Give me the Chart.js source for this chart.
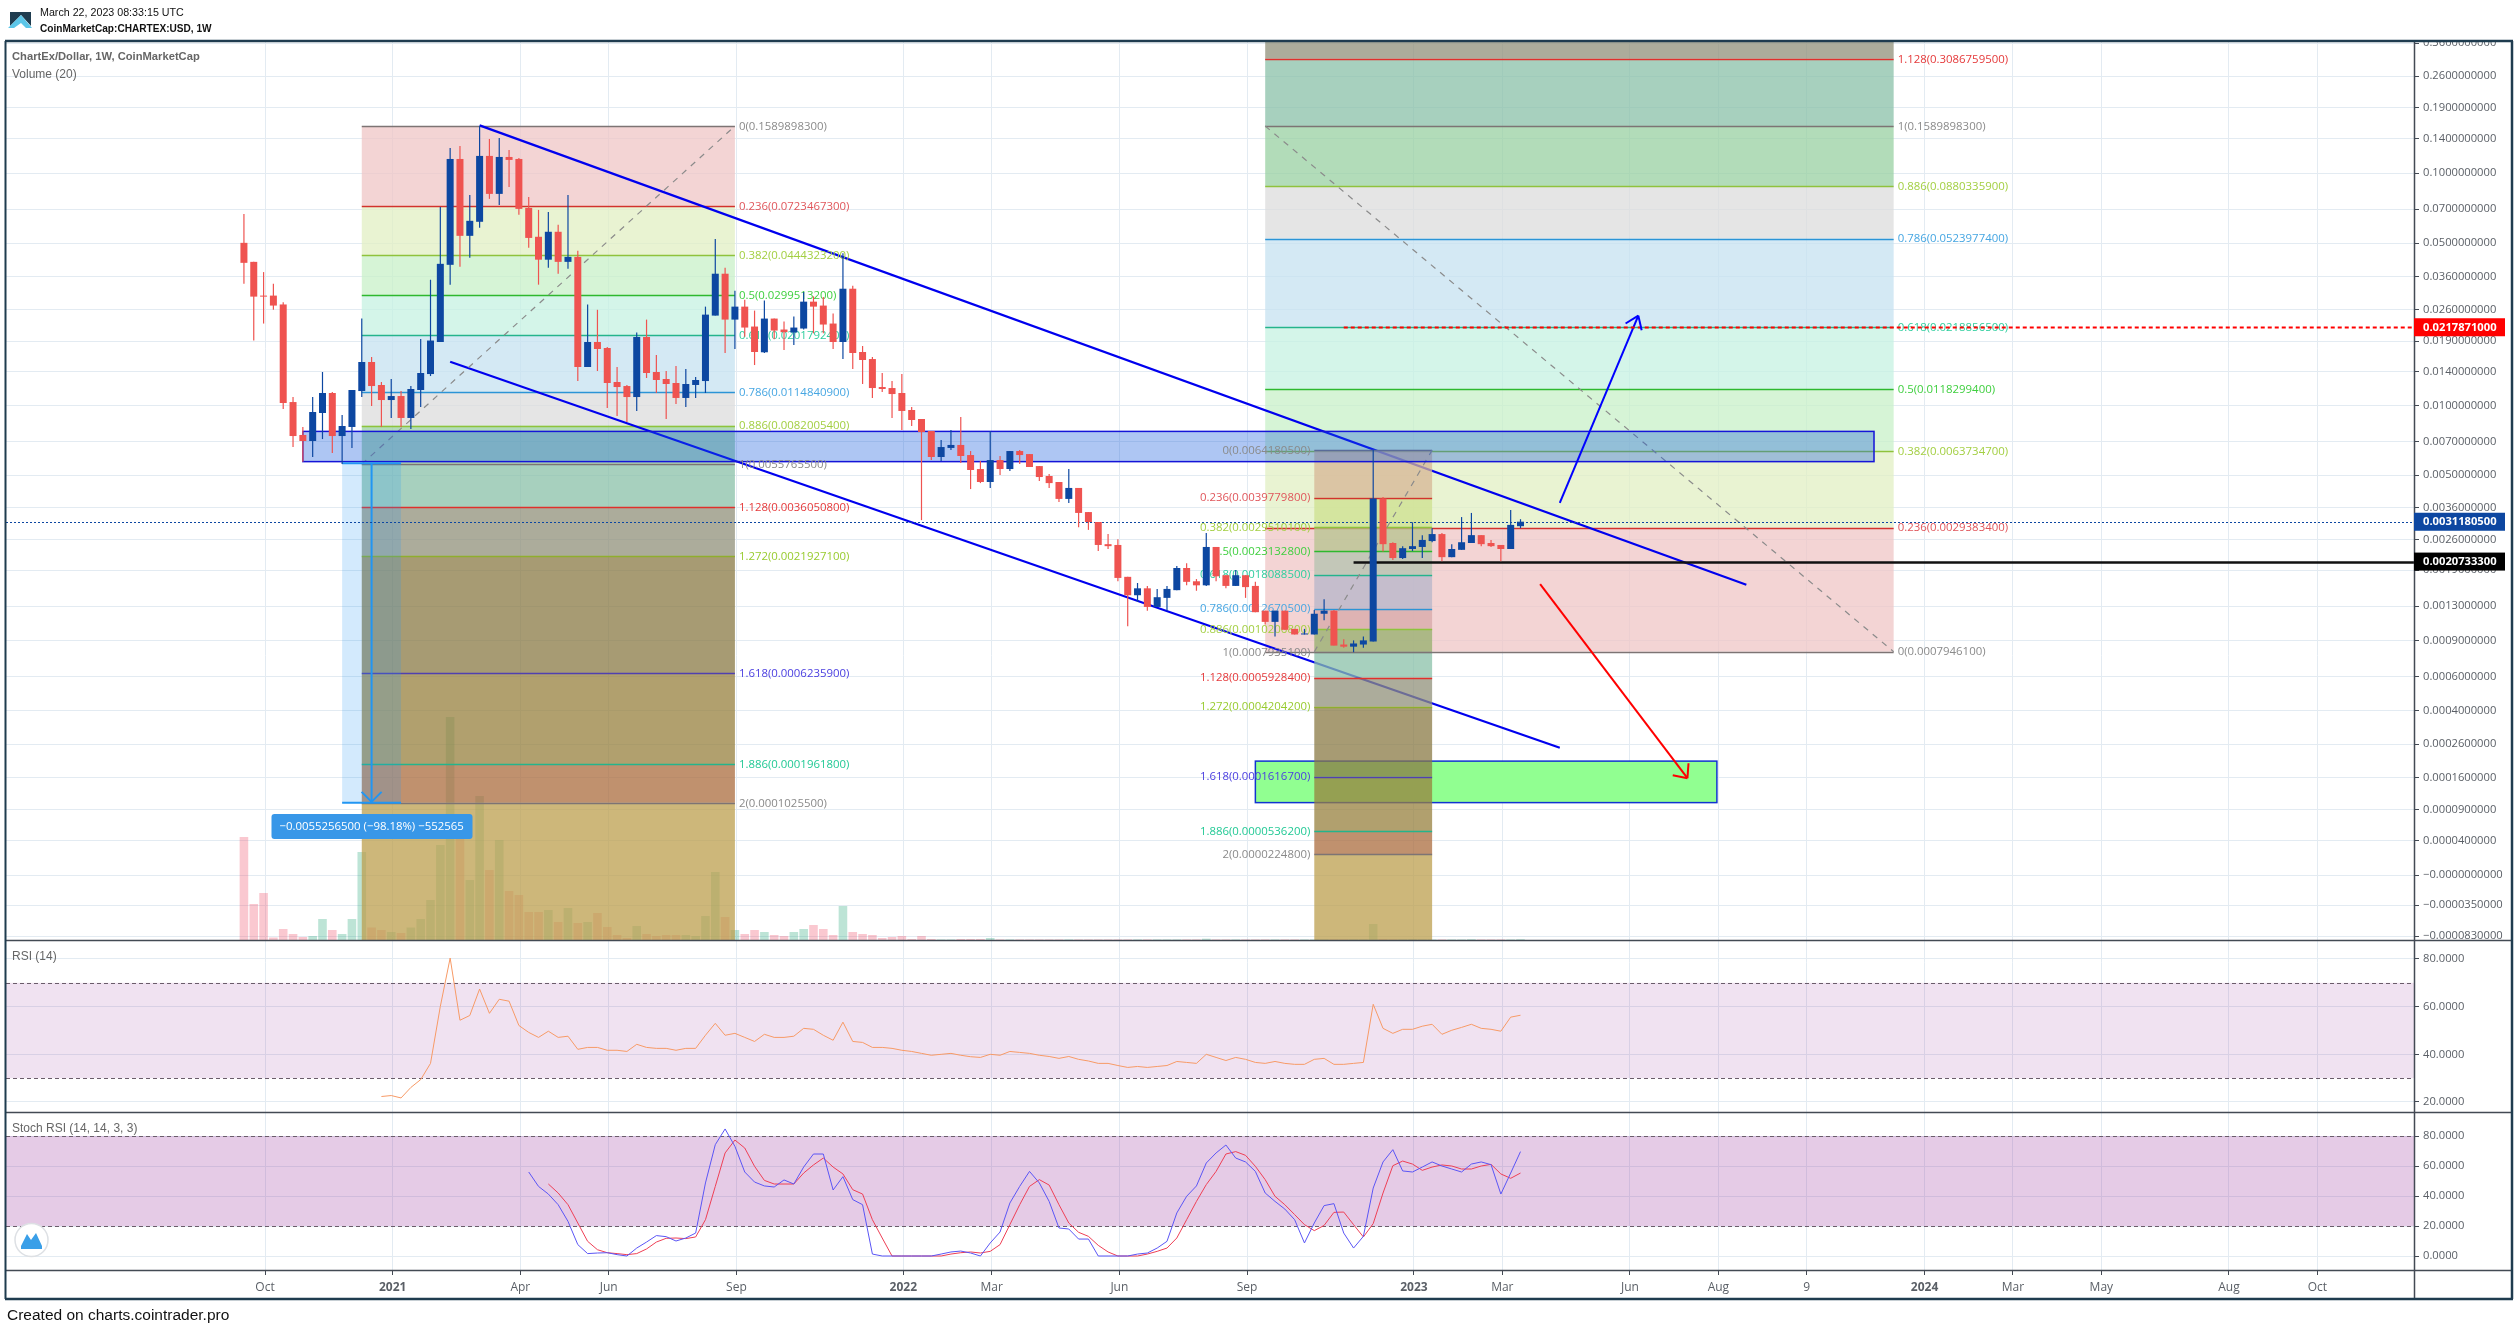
<!DOCTYPE html>
<html><head><meta charset="utf-8"><title>ChartEx/Dollar</title>
<style>html,body{margin:0;padding:0;background:#fff}canvas{display:block}</style>
<script src="https://cdn.jsdelivr.net/npm/chart.js@4/dist/chart.umd.js"></script>
</head><body><canvas id="c" width="2518" height="1330"></canvas>
<script>
// ---------- weekly candles (index = week number on the x axis) ----------
const open=[.0502,.0416,.0298,.0298,.0273,.01037,.00747,.00703,.0093,.01135,.00739,.00809,.01157,.01544,.01229,.01058,.01101,.00885,.01169,.0137,.01882,.0404,.1149,.0538,.0618,.1184,.0814,.1172,.1149,.0709,.0533,.0425,.056,.0416,.0437,.01469,.01882,.01774,.01266,.01216,.0109,.01978,.01398,.01304,.01253,.0108,.01229,.01278,.02445,.037,.0235,.02672,.02194,.017,.02374,.0213,.02068,.02151,.02807,.027,.0226,.01882,.0319,.01705,.0159,.01204,.01192,.01135,.00958,.00876,.00777,.00599,.00656,.00676,.00611,.00531,.00466,.00581,.00531,.00636,.00617,.00547,.00495,.00466,.00393,.00439,.00344,.00311,.00248,.00246,.00177,.00146,.00157,.00129,.00142,.00154,.00194,.00169,.00162,.00241,.0018,.00161,.0018,.00161,.00124,.0011,.00124,.00102,.00096,.00096,.0012,.00124,.00086,.00084,.00086,.00089,.00395,.00251,.00215,.00236,.00241,.00256,.00275,.00217,.00234,.00251,.00272,.00251,.00246,.00236,.00298];
const high=[.0668,.0416,.0376,.0335,.0279,.0109,.00809,.0109,.01398,.01146,.00911,.01169,.02374,.01622,.01266,.01304,.01157,.01216,.01939,.03486,.0716,.1281,.1306,.0806,.159,.14,.1414,.1256,.1161,.079,.0695,.0681,.06,.0806,.0464,.0273,.0259,.01791,.01469,.01229,.02068,.0235,.01655,.01412,.01484,.0144,.0133,.02672,.0522,.0392,.03128,.02863,.02569,.0284,.02374,.02305,.02421,.03087,.02958,.02939,.02494,.04534,.03286,.01809,.01622,.01384,.01278,.0137,.00987,.00876,.00777,.0071,.00785,.00893,.00636,.00576,.00777,.00605,.00636,.00643,.00617,.00547,.00505,.00466,.00531,.00439,.00344,.00311,.00275,.00261,.00177,.00166,.00161,.00156,.00161,.00198,.00204,.00173,.00278,.00241,.0018,.0019,.0018,.00168,.00124,.00124,.00124,.00102,.00102,.00125,.0014,.00125,.00091,.0009,.00094,.00642,.00401,.00253,.00243,.0031,.00272,.00292,.00278,.00248,.00327,.00341,.00272,.00259,.00246,.00351,.0032];
const low=[.0335,.0191,.0226,.0259,.00968,.00662,.00572,.00599,.00717,.00624,.00558,.00656,.0109,.00997,.00809,.00885,.00809,.00793,.00987,.01343,.01882,.0332,.0396,.0433,.0582,.0775,.073,.0872,.0662,.0478,.0332,.0392,.037,.0389,.01278,.01469,.01412,.00977,.00902,.0085,.00949,.01317,.01135,.00876,.01017,.00987,.0108,.01135,.02445,.01688,.01756,.01984,.01498,.0169,.01933,.01739,.01827,.0213,.02051,.02051,.01756,.0159,.0144,.01241,.0108,.01146,.00885,.00785,.00817,.00317,.00581,.00576,.00643,.00564,.00434,.00461,.00439,.005,.00521,.00558,.00542,.00471,.00439,.00381,.00377,.00295,.00287,.00231,.00236,.00169,.00105,.00136,.00124,.00129,.00124,.00154,.00162,.00153,.00161,.00169,.00157,.00161,.00142,.00122,.00107,.00094,.00101,.00096,.00096,.00096,.00112,.00085,.00083,.00079,.00083,.00089,.0023,.00211,.00213,.00231,.00215,.00253,.00208,.00217,.00234,.00251,.00243,.00241,.00208,.00236,.00292];
const close=[.0412,.0295,.0295,.027,.01027,.00739,.00703,.00939,.01135,.00739,.00817,.01169,.01544,.01216,.01058,.01101,.00885,.01181,.01384,.0191,.0408,.1149,.0538,.0624,.1184,.0814,.1172,.1138,.0702,.0527,.0425,.056,.0416,.0437,.01469,.01882,.01756,.01253,.01204,.0109,.01978,.01384,.01291,.01241,.0108,.01241,.01291,.02469,.037,.0235,.02672,.02172,.01705,.02374,.02109,.02075,.02172,.02807,.02672,.02238,.01882,.0319,.01688,.01575,.01192,.01181,.01123,.00949,.00867,.00769,.00599,.00662,.00676,.00605,.00526,.00466,.00581,.00531,.00636,.00611,.00542,.0049,.00461,.00393,.00439,.00341,.00311,.00246,.00243,.00175,.00146,.00157,.00129,.00143,.00156,.00194,.00168,.00162,.00241,.00178,.00161,.0018,.00159,.00122,.0011,.00124,.00101,.00096,.00097,.0012,.00124,.00085,.00084,.00087,.0009,.00395,.00248,.00215,.00238,.00243,.00259,.00275,.00217,.00236,.00253,.00272,.00248,.00243,.00236,.00302,.00312];
const volume=[103,36,47,2.5,11,6,3,4,21,10,6,21,88,12.5,10,8,7,12.5,21,40,95,223,101,60,144,70,100,49,45,28,28,30,18,32,17,18,27,13,5,2,14,6,4,5,5,5,4,24,68,23,10,6,10,8,5,4,8,11,15,11,5,34,8,6,5,2,3,4,1,4,1,.5,.5,1,1,1,2,.5,.5,.5,.5,.5,.5,.5,.5,.5,.5,.5,.5,.5,.5,.5,.5,.5,.5,.5,.5,.5,1.3,.5,.5,.5,.5,.5,.5,.5,.5,.5,.5,.5,.5,.5,.5,.5,.5,16,.8,.5,.5,.7,.5,.5,.5,.5,.5,.8,.5,.5,.5,.5,.8];
// ---------- indicators ----------
const rsiStart=14;
const rsi=[22.3,22.7,21.7,26.1,29.4,36.2,60.1,80.4,54.3,56.3,67.4,57.2,63.1,62.3,52.1,49.2,47.1,49.7,47.1,47.6,42.1,42.9,42.9,41.7,41.7,41.2,44.2,42.9,42.5,42.5,41.7,42.5,42.5,48,53,48,48.8,47.1,45.4,48.4,47.1,47.1,47.6,50.9,50.5,48,45.9,53.5,45.4,45,42.9,42.9,42.5,41.7,41.2,40.4,39.6,40,40.4,39.6,39,38.7,40,39.6,41.2,40.8,40.4,39.6,39.1,38.3,39.1,37.9,37.2,36.2,36.2,35.3,34.5,34.9,34.5,34.9,35.3,37,36.6,36.2,40,38.7,37.4,38.7,37.9,36.6,36.2,37,36.2,35.8,35.8,37.9,38.3,35.8,35.8,36.2,36.6,61,50.9,48.8,50.5,50.5,51.8,52.6,48.4,50.1,51.3,52.6,50.9,50.5,49.7,55.6,56.4];
const stochKStart=29;
const stochK=[56,46.4,41.3,34.2,23.1,7.6,1.6,2,2.2,.9,0,5.3,9.3,13.6,12.9,10,12,15.3,48.7,74.2,84.7,73.1,56,49.3,46.7,46,50.7,48,59.3,68,68,44,52.9,37.6,34.2,1.3,0,0,0,0,0,0,1.3,2.7,3.3,2,0,8.7,16,35.3,46.4,56.4,48.7,36.4,18.7,18,11.3,11.3,0,0,0,0,1.3,2,5.3,9.8,28.7,39.8,46.7,62,68.7,74,65.3,62.7,56.4,42,36.4,31.3,24.2,8.7,22,33.6,34.9,15.3,5.3,13.1,45.3,62.7,70.9,56.7,56,59.3,62.7,60,58,56,61.3,62.7,60.9,41.3,55.3,69.6];
const stochDStart=31;
const stochD=[48,42,34.2,22,9.8,4.2,2.2,1.6,.9,1.6,4.7,9.3,11.8,12,11.6,12.7,24.2,46.4,68.7,77.3,72,59.8,50.4,48,48,48,55.3,60.7,65.3,59.3,54.7,44.2,41.3,24.2,12,0,0,0,0,0,0,1.3,2.2,2.7,2,3.1,7.6,20.9,34.2,46.4,50.9,47.3,34.2,22,15.8,13.1,7.1,2.7,0,0,0,1.3,3.1,5.3,12,24.2,36.4,47.6,56.4,68,69.6,67.1,59.8,50.9,39.8,34.2,27.6,20.9,16.9,20.4,29.1,29.3,20.9,12.7,21.6,42,60.2,63.3,61.3,57.1,59.3,60.7,60,58,58,60,61.1,54.7,51.8,55.3];
// ---------- axes ----------
const weekTicks=[2.15,15.15,28.15,37.15,50.15,67.15,76.15,89.15,102.15,119.15,128.15,141.15,150.15,159.15,171.15,180.15,189.15,202.15,211.15];
const weekLabels=['Oct','2021','Apr','Jun','Sep','2022','Mar','Jun','Sep','2023','Mar','Jun','Aug','9','2024','Mar','May','Aug','Oct'];
const priceTicks=[.36,.26,.19,.14,.1,.07,.05,.036,.026,.019,.014,.01,.007,.005,.0036,.0026,.0019,.0013,.0009,.0006,.0004,.00026,.00016,.00009,.00004,0,-.000035,-.000083];
const rsiTicks=[80,60,40,20];
const stochTicks=[80,60,40,20,0];
// ---------- fibonacci tools ----------
const fibLevels=[0,.236,.382,.5,.618,.786,.886,1,1.128,1.272,1.618,1.886,2];
const fibLeftWeeks=[12,50];
const fibLeftPrices=[.15898983,.07234673,.04443232,.02995132,.02017924,.01148409,.00820054,.00557655,.00360508,.00219271,.00062359,.00019618,.00010255];
const fibMidWeeks=[109,121];
const fibMidPrices=[.00641805,.00397798,.00295101,.00231328,.00180885,.00126705,.00102068,.00079351,.00059284,.00042042,.00016167,.00005362,.00002248];
const fibRightWeeks=[104,168];
const fibRightPrices=[.00079461,.00293834,.00637347,.01182994,.02188565,.05239774,.08803359,.15898983,.30867595];
// ---------- drawings ----------
const channelTop=[[24,.16],[153,.00163]];
const channelBottom=[[21,.01549],[134,.000248]];
const arrowUp=[[134,.00378],[142,.02445]];
const arrowDown=[[132,.00164],[147,.000158]];
const zoneBlue=[6,166,.00774,.00572];
const zoneGreen=[103,150,.000205,.000103];
const measure=[10,16,13,.0056282,.0001025];
const measureText='\u22120.0055256500 (\u221298.18%) \u2212552565';
const lastPrice=.0031180500, redLevel=.0217871, redLevelWeek=112, blackLevel=.0020733300, blackLevelWeek=113;

const FONT='"Open Sans"', BLUE='#0D47A1', RED='#EF5350';
const OFF=.0000988, NEGK=.129/Math.pow(35e-6,.82);
const priceT=v=>v>=0?Math.log10(v+OFF):Math.log10(OFF)-NEGK*Math.pow(-v,.82);
class PriceScale extends Chart.Scale{
  static id='priceAxis'; static defaults={};
  determineDataLimits(){this.min=this.options.min;this.max=this.options.max;}
  buildTicks(){return priceTicks.map(v=>({value:v}));}
  configure(){super.configure();this._s=priceT(this.min);this._r=priceT(this.max)-this._s;}
  getPixelForValue(v){return this.getPixelForDecimal((priceT(v)-this._s)/this._r);}
  getValueForPixel(p){return Math.pow(10,this.getDecimalForPixel(p)*this._r+this._s)-OFF;}
  getLabelForValue(v){return String(v);}
}
Chart.register(PriceScale);

const isUp=i=>close[i]>=open[i];
const lineData=a=>a.map(p=>({x:p[0],y:p[1]}));
const series=(a,s)=>a.map((v,i)=>({x:i+s,y:v}));
const weeks=open.map((_,i)=>i);
const thin={type:'line',pointRadius:0,fill:false,tension:0,borderJoinStyle:'round'};

const mix=(t,a=.75)=>{const c=t.map(v=>Math.max(0,Math.round((v-255*(1-a))/a)));return `rgba(${c[0]},${c[1]},${c[2]},${a})`;};
const bandLeft=[[243,212,212],[233,243,210],[214,244,214],[212,245,233],[212,233,244],[229,229,229],[178,220,185],[167,208,190],[172,172,155],[167,155,115],[177,160,110],[192,145,110]];
const bandMid=[[225,200,175],[218,232,170],[200,210,170],[198,210,195],[200,200,215],[225,190,190],[175,195,145],[167,208,190],[172,172,155],[167,155,115],[177,160,110],[192,145,110]];
const lineCol=['#7d7474','#d2322d','#8fc23c','#2eb82e','#24b48c','#2b94d6','#8fc23c','#7d7474','#e0302c','#8fae2e','#5040b0','#24b48c','#7d7474'];
const textCol=['#8a8a8a','#e0565b','#a3cf42','#3fcf3f','#2fce9e','#46a6e2','#a3cf42','#8a8a8a','#e5393a','#98cb2e','#4a3ee0','#22c995','#8a8a8a'];

function seg(ctx,x1,y1,x2,y2,col,w,dash){ctx.save();ctx.strokeStyle=col;ctx.lineWidth=w;ctx.setLineDash(dash||[]);ctx.beginPath();ctx.moveTo(x1,y1);ctx.lineTo(x2,y2);ctx.stroke();ctx.restore();}
function head(ctx,a,col,w,len,spread){
  const X=ctx.chart.scales.x,Y=ctx.chart.scales.y;
  const x1=X.getPixelForValue(a[0][0]),y1=Y.getPixelForValue(a[0][1]),x2=X.getPixelForValue(a[1][0]),y2=Y.getPixelForValue(a[1][1]);
  const ang=Math.atan2(y2-y1,x2-x1);
  seg(ctx,x2-len*Math.cos(ang-spread),y2-len*Math.sin(ang-spread),x2,y2,col,w);
  seg(ctx,x2-len*Math.cos(ang+spread),y2-len*Math.sin(ang+spread),x2,y2,col,w);
}
function fibFill(chart,weeksR,prices,bands,ext,extUp){
  const ctx=chart.ctx,X=chart.scales.x,Y=chart.scales.y;
  const x1=X.getPixelForValue(weeksR[0]),x2=X.getPixelForValue(weeksR[1]);
  ctx.save();
  for(let i=0;i<prices.length-1;i++){
    const a=Y.getPixelForValue(prices[i]),b=Y.getPixelForValue(prices[i+1]);
    ctx.fillStyle=mix(bands[i]);ctx.fillRect(x1,Math.min(a,b),x2-x1,Math.abs(b-a));
  }
  const last=Y.getPixelForValue(prices[prices.length-1]);
  ctx.fillStyle=mix(ext);
  if(extUp)ctx.fillRect(x1,Y.top,x2-x1,last-Y.top);else ctx.fillRect(x1,last,x2-x1,Y.bottom-last);
  prices.forEach((p,i)=>{const y=Math.round(Y.getPixelForValue(p))+.5;seg(ctx,x1,y,x2,y,lineCol[i],1.5);});
  ctx.restore();
}
function fibLabels(chart,weeksR,prices,side){
  const ctx=chart.ctx,X=chart.scales.x,Y=chart.scales.y;
  ctx.save();ctx.font=`11.4px ${FONT}`;ctx.textBaseline='middle';
  const x=side==='right'?X.getPixelForValue(weeksR[1])+4:X.getPixelForValue(weeksR[0])-4;
  ctx.textAlign=side==='right'?'left':'right';
  prices.forEach((p,i)=>{ctx.fillStyle=textCol[i];ctx.fillText(`${fibLevels[i]}(${p.toFixed(10)})`,x,Y.getPixelForValue(p)+.5);});
  ctx.restore();
}
function box(chart,z,fill,stroke,w){
  const ctx=chart.ctx,X=chart.scales.x,Y=chart.scales.y;
  const x1=X.getPixelForValue(z[0]),x2=X.getPixelForValue(z[1]),y1=Y.getPixelForValue(z[2]),y2=Y.getPixelForValue(z[3]);
  ctx.save();ctx.fillStyle=fill;ctx.fillRect(x1,y1,x2-x1,y2-y1);ctx.strokeStyle=stroke;ctx.lineWidth=w;ctx.strokeRect(x1,y1,x2-x1,y2-y1);ctx.restore();
}
const toolsPlugin={
  id:'tools',
  beforeDatasetsDraw(chart){
    const ctx=chart.ctx,R=chart.scales.yRsi,S=chart.scales.yStoch,l=chart.chartArea.left,r=chart.chartArea.right;
    ctx.save();
    ctx.fillStyle='rgba(150,47,155,.14)';ctx.fillRect(l,R.getPixelForValue(70),r-l,R.getPixelForValue(30)-R.getPixelForValue(70));
    ctx.fillStyle='rgba(150,47,155,.25)';ctx.fillRect(l,S.getPixelForValue(80),r-l,S.getPixelForValue(20)-S.getPixelForValue(80));
    [[R,70],[R,30],[S,80],[S,20]].forEach(([sc,v])=>{const y=Math.round(sc.getPixelForValue(v))+.5;seg(ctx,l,y,r,y,'#6a5c6a',1.2,[4,3]);});
    ctx.restore();
  },
  beforeDatasetDraw(chart,args){
    const name=chart.data.datasets[args.index].label;
    const ctx=chart.ctx,X=chart.scales.x,Y=chart.scales.y;
    if(name==='channelTop'){
      box(chart,zoneGreen,'rgb(145,255,145)','#1034d0',1.5);
      fibFill(chart,fibRightWeeks,fibRightPrices,bandLeft,[172,172,155],true);
      fibFill(chart,fibLeftWeeks,fibLeftPrices,bandLeft,[205,183,122],false);
    }
    if(name==='arrowUp'){
      fibFill(chart,fibMidWeeks,fibMidPrices,bandMid,[205,183,122],false);
      const dg=(w,a,b)=>seg(ctx,X.getPixelForValue(w[0]),Y.getPixelForValue(a),X.getPixelForValue(w[1]),Y.getPixelForValue(b),'#8b8b8b',1.2,[6,6]);
      dg(fibLeftWeeks,fibLeftPrices[7],fibLeftPrices[0]);
      dg(fibMidWeeks,fibMidPrices[7],fibMidPrices[0]);
      dg(fibRightWeeks,fibRightPrices[7],fibRightPrices[0]);
      box(chart,zoneBlue,'rgba(24,92,221,.35)','#1414d8',1.5);
      const x1=X.getPixelForValue(measure[0]),x2=X.getPixelForValue(measure[1]),xm=X.getPixelForValue(measure[2]),
            y1=Y.getPixelForValue(measure[3]),y2=Y.getPixelForValue(measure[4]);
      ctx.fillStyle='rgba(33,150,243,.2)';ctx.fillRect(x1,y1,x2-x1,y2-y1);
      seg(ctx,x1,y1,x2,y1,'#2196F3',2);seg(ctx,x1,y2,x2,y2,'#2196F3',2);seg(ctx,xm,y1,xm,y2,'#2196F3',2);
      seg(ctx,xm-10,y2-11,xm,y2-1,'#2196F3',2);seg(ctx,xm+10,y2-11,xm,y2-1,'#2196F3',2);
      fibLabels(chart,fibLeftWeeks,fibLeftPrices,'right');
      fibLabels(chart,fibRightWeeks,fibRightPrices,'right');
      fibLabels(chart,fibMidWeeks,fibMidPrices,'left');
    }
    if(name==='wicks'){
      const a=Math.round(Y.getPixelForValue(lastPrice))+.5;
      seg(ctx,X.left,a,X.right,a,BLUE,1,[2,2]);
      const b=Math.round(Y.getPixelForValue(blackLevel))+.5;
      seg(ctx,X.getPixelForValue(blackLevelWeek),b,X.right,b,'#111',2.4);
      const c=Math.round(Y.getPixelForValue(redLevel))+.5;
      seg(ctx,X.getPixelForValue(redLevelWeek),c,X.right,c,'#FF0000',2,[4,3]);
    }
  },
  afterDatasetsDraw(chart){
    const ctx=chart.ctx;ctx.chart=chart;
    head(ctx,arrowUp,'#0000FF',2,15,.62);
    head(ctx,arrowDown,'#FF0000',2,15,.72);
  },
  afterDraw(chart){
    const ctx=chart.ctx,Y=chart.scales.y,X=chart.scales.x,R=chart.scales.yRsi,S=chart.scales.yStoch;
    const mx=(X.getPixelForValue(measure[2]));
    ctx.save();
    ctx.fillStyle='#3897E8';ctx.beginPath();ctx.roundRect(271.5,814,201,25,3);ctx.fill();
    ctx.fillStyle='#fff';ctx.font=`11.4px ${FONT}`;ctx.textBaseline='middle';ctx.textAlign='center';ctx.fillText(measureText,mx,826.5);
    ctx.fillStyle='#fff';ctx.fillRect(0,0,2518,40);ctx.fillRect(0,1300,2518,30);ctx.fillRect(2415,941,95,5);
    const P='#434a54',F='#1f3c4f';
    [Y.bottom,R.bottom,S.bottom].forEach(y=>seg(ctx,6,Math.round(y)+.5,2512,Math.round(y)+.5,P,1.5));
    seg(ctx,2414.5,41,2414.5,1299,P,1.5);
    seg(ctx,5,41,2513,41,F,2.5);seg(ctx,5.5,41,5.5,1299,F,2);seg(ctx,2512,41,2512,1299,F,2.5);seg(ctx,5,1299,2513,1299,F,2.5);
    [[lastPrice,BLUE],[redLevel,'#FF0000'],[blackLevel,'#000']].forEach(([v,col])=>{
      const y=Y.getPixelForValue(v);
      ctx.fillStyle=col;ctx.fillRect(2414,y-9,91,18);
      ctx.fillStyle='#fff';ctx.font=`bold 11.2px ${FONT}`;ctx.textAlign='left';ctx.textBaseline='middle';ctx.fillText(v.toFixed(10),2423,y+.5);
    });
    ctx.textAlign='left';ctx.textBaseline='middle';
    ctx.fillStyle='#111';ctx.font='10.7px "Liberation Sans"';ctx.fillText('March 22, 2023 08:33:15 UTC',40,13);
    ctx.font='bold 10.1px "Liberation Sans"';ctx.fillText('CoinMarketCap:CHARTEX:USD, 1W',40,29);
    ctx.fillStyle='#666';ctx.font='bold 11.2px "Liberation Sans"';ctx.fillText('ChartEx/Dollar, 1W, CoinMarketCap',12,57);
    ctx.font='12px "Liberation Sans"';ctx.fillText('Volume (20)',12,75);
    ctx.fillText('RSI (14)',12,957);ctx.fillText('Stoch RSI (14, 14, 3, 3)',12,1129);
    ctx.fillStyle='#111';ctx.font='15.5px "Liberation Sans"';ctx.fillText('Created on charts.cointrader.pro',7,1316);
    ctx.fillStyle='#1f3c4f';ctx.beginPath();ctx.moveTo(10,12);ctx.lineTo(31,12);ctx.lineTo(31,26);ctx.lineTo(21,15);ctx.lineTo(10,26);ctx.closePath();ctx.fill();
    ctx.fillStyle='#5cc6e8';ctx.beginPath();ctx.moveTo(21,15);ctx.lineTo(32,28);ctx.lineTo(26,28);ctx.lineTo(21,23);ctx.lineTo(14,28);ctx.lineTo(8,28);ctx.closePath();ctx.fill();
    ctx.fillStyle='#fff';ctx.strokeStyle='#dde0e4';ctx.lineWidth=1.5;ctx.beginPath();ctx.arc(31.5,1240,16.5,0,Math.PI*2);ctx.fill();ctx.stroke();
    ctx.fillStyle='#3a9fe8';ctx.beginPath();ctx.moveTo(21,1246);ctx.lineTo(27,1234);ctx.lineTo(31,1240);ctx.lineTo(36,1233);ctx.lineTo(42,1246);ctx.lineTo(42,1249);ctx.lineTo(21,1249);ctx.closePath();ctx.fill();
    ctx.restore();
  }
};
const gridCol='#E3EBF2', tickCol='#434a54', labelCol='#5a5f66';
const axisFont={family:FONT,size:11.2};
const rightAxis=(extra)=>Object.assign({position:'right',grid:{color:gridCol,tickColor:tickCol,tickLength:5,offset:false},border:{display:false},
  ticks:{color:labelCol,font:axisFont,padding:4,autoSkip:false,maxRotation:0},afterFit(s){s.width=104;}},extra);
new Chart(document.getElementById('c'),{
  type:'bar',
  plugins:[toolsPlugin],
  data:{datasets:[
    {label:'volume',type:'bar',yAxisID:'yVol',order:10,barThickness:8.6,grouped:false,inflateAmount:0,
      data:weeks.map(i=>({x:i,y:volume[i]})),backgroundColor:weeks.map(i=>isUp(i)?'rgba(38,166,120,.3)':'rgba(239,83,110,.32)')},
    Object.assign({label:'channelTop',yAxisID:'y',order:8,data:lineData(channelTop),borderColor:'#0000EE',borderWidth:2.2},thin),
    Object.assign({label:'channelBottom',yAxisID:'y',order:7,data:lineData(channelBottom),borderColor:'#0000EE',borderWidth:2.2},thin),
    Object.assign({label:'arrowUp',yAxisID:'y',order:6,data:lineData(arrowUp),borderColor:'#0000FF',borderWidth:2},thin),
    Object.assign({label:'arrowDown',yAxisID:'y',order:5,data:lineData(arrowDown),borderColor:'#FF0000',borderWidth:2},thin),
    {label:'wicks',type:'bar',yAxisID:'y',order:4,barThickness:1.2,grouped:false,inflateAmount:0,
      data:weeks.map(i=>({x:i,y:[low[i],high[i]]})),backgroundColor:weeks.map(i=>isUp(i)?BLUE:RED)},
    {label:'bodies',type:'bar',yAxisID:'y',order:3,barThickness:7,grouped:false,inflateAmount:0,minBarLength:1,
      data:weeks.map(i=>({x:i,y:[open[i],close[i]]})),backgroundColor:weeks.map(i=>isUp(i)?BLUE:RED)},
    Object.assign({label:'RSI',yAxisID:'yRsi',order:2,data:series(rsi,rsiStart),borderColor:'#F79A66',borderWidth:1},thin),
    Object.assign({label:'%D',yAxisID:'yStoch',order:1,data:series(stochD,stochDStart),borderColor:'#EE3F55',borderWidth:1},thin),
    Object.assign({label:'%K',yAxisID:'yStoch',order:0,data:series(stochK,stochKStart),borderColor:'#5A55F5',borderWidth:1},thin)
  ]},
  options:{
    responsive:false,animation:false,devicePixelRatio:1,
    layout:{padding:{left:6,top:41,right:0,bottom:31}},
    plugins:{legend:{display:false},tooltip:{enabled:false}},
    scales:{
      x:{type:'linear',position:'bottom',min:-24.23,max:220.99,offset:false,
        grid:{color:gridCol,tickColor:tickCol,tickLength:5,offset:false},border:{display:false},
        afterBuildTicks(s){s.ticks=weekTicks.map(v=>({value:v}));},
        afterFit(s){s.height=29;},
        ticks:{autoSkip:false,maxRotation:0,padding:5,color:labelCol,
          font:c=>({family:FONT,size:12,weight:/^\d{4}$/.test(weekLabels[c.index])?'bold':'normal'}),
          callback:(v,i)=>weekLabels[i]}},
      y:rightAxis({type:'priceAxis',stack:'panes',stackWeight:899,min:-.0000893,max:.3678,
        ticks:{color:labelCol,font:axisFont,padding:4,autoSkip:false,maxRotation:0,
          callback:v=>v>0?v.toFixed(10):'\u2212'+Math.abs(v).toFixed(10)}}),
      yRsi:rightAxis({type:'linear',stack:'panes',stackWeight:172,min:15.8,max:87.97,
        afterBuildTicks(s){s.ticks=rsiTicks.map(v=>({value:v}));},
        ticks:{color:labelCol,font:axisFont,padding:4,autoSkip:false,maxRotation:0,callback:v=>v.toFixed(4)}}),
      yStoch:rightAxis({type:'linear',stack:'panes',stackWeight:158,min:-9.33,max:96,
        afterBuildTicks(s){s.ticks=stochTicks.map(v=>({value:v}));},
        ticks:{color:labelCol,font:axisFont,padding:4,autoSkip:false,maxRotation:0,callback:v=>v.toFixed(4)}}),
      yVol:{type:'linear',position:'left',display:false,min:-330,max:899}
    }
  }
});
</script></body></html>
